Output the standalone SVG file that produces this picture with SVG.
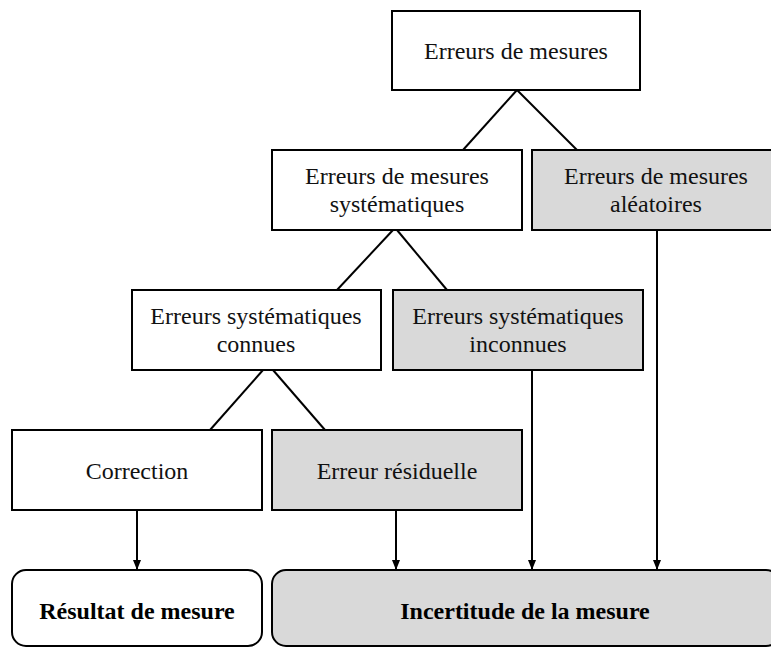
<svg xmlns="http://www.w3.org/2000/svg" width="771" height="648" viewBox="0 0 771 648">
<style>
  .box { fill: #ffffff; stroke: #000000; stroke-width: 2; }
  .gray { fill: #d9d9d9; }
  .t { font-family: "Liberation Serif", "Times New Roman", serif; font-size: 24px; fill: #111111; text-anchor: middle; }
  .b { font-weight: bold; fill: #000000; }
  .ln { stroke: #000000; stroke-width: 2; fill: none; }
  .ar { stroke: #000000; stroke-width: 2; fill: none; marker-end: url(#ah); }
</style>
<defs>
  <marker id="ah" viewBox="0 0 10 10" refX="10" refY="5" markerWidth="10" markerHeight="10" markerUnits="userSpaceOnUse" orient="auto">
    <path d="M0,1 L10,5 L0,9 Z" fill="#000000"/>
  </marker>
</defs>
<rect width="771" height="648" fill="#ffffff"/>

<g id="connectors">
  <line class="ln" x1="517" y1="90" x2="463" y2="150"/>
  <line class="ln" x1="517" y1="90" x2="577" y2="150"/>
  <line class="ln" x1="393" y1="230" x2="337" y2="290"/>
  <line class="ln" x1="397" y1="230" x2="447" y2="290"/>
  <line class="ln" x1="263" y1="370" x2="210" y2="430"/>
  <line class="ln" x1="273" y1="370" x2="325" y2="430"/>
  <line class="ar" x1="137" y1="510" x2="137" y2="570"/>
  <line class="ar" x1="396" y1="510" x2="396" y2="570"/>
  <line class="ar" x1="532" y1="370" x2="532" y2="570"/>
  <line class="ar" x1="657" y1="230" x2="657" y2="570"/>
</g>

<g id="erreurs-mesures">
  <rect class="box" x="392" y="11" width="248" height="79"/>
  <text class="t" x="516" y="59">Erreurs de mesures</text>
</g>

<g id="erreurs-systematiques">
  <rect class="box" x="272" y="150" width="250" height="80"/>
  <text class="t" x="397" y="184">Erreurs de mesures</text>
  <text class="t" x="397" y="212">systématiques</text>
</g>

<g id="erreurs-aleatoires">
  <rect class="box gray" x="532" y="150" width="248" height="80"/>
  <text class="t" x="656" y="184">Erreurs de mesures</text>
  <text class="t" x="656" y="212">aléatoires</text>
</g>

<g id="systematiques-connues">
  <rect class="box" x="132" y="290" width="249" height="80"/>
  <text class="t" x="256" y="324">Erreurs systématiques</text>
  <text class="t" x="256" y="352">connues</text>
</g>

<g id="systematiques-inconnues">
  <rect class="box gray" x="393" y="290" width="250" height="80"/>
  <text class="t" x="518" y="324">Erreurs systématiques</text>
  <text class="t" x="518" y="352">inconnues</text>
</g>

<g id="correction">
  <rect class="box" x="12" y="430" width="250" height="80"/>
  <text class="t" x="137" y="479">Correction</text>
</g>

<g id="erreur-residuelle">
  <rect class="box" x="272" y="430" width="250" height="80" style="fill:#d9d9d9"/>
  <text class="t" x="397" y="479">Erreur résiduelle</text>
</g>

<g id="resultat">
  <rect class="box" x="12" y="570" width="250" height="76" rx="14" ry="14"/>
  <text class="t b" x="137" y="619">Résultat de mesure</text>
</g>

<g id="incertitude">
  <rect class="box gray" x="272" y="570" width="508" height="76" rx="14" ry="14"/>
  <text class="t b" x="525" y="619">Incertitude de la mesure</text>
</g>
</svg>
